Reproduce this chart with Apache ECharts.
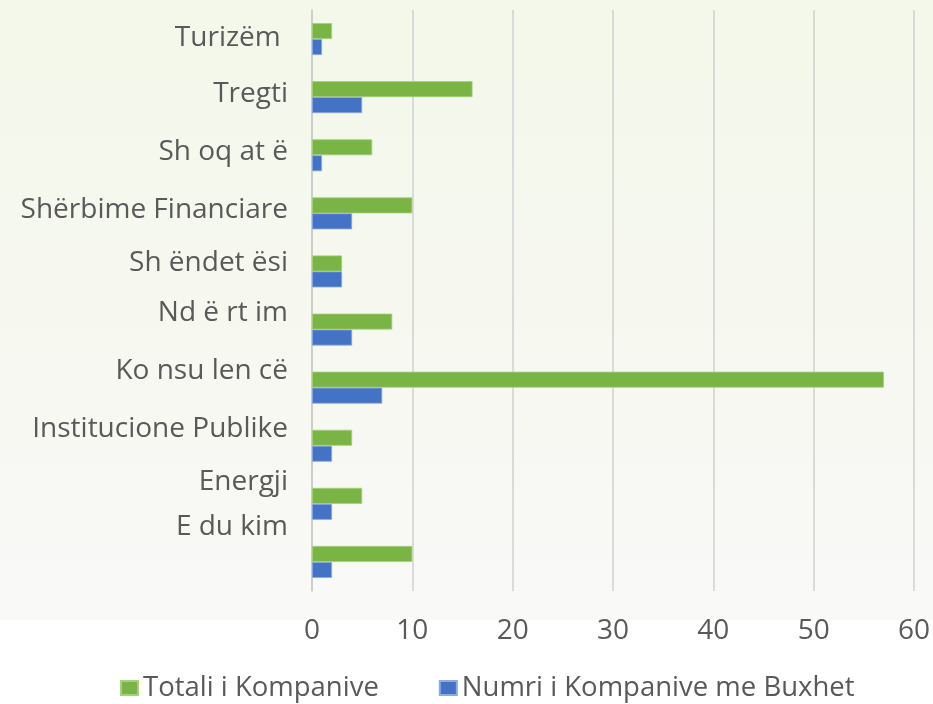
<!DOCTYPE html>
<html>
<head>
<meta charset="utf-8">
<script src="https://cdn.jsdelivr.net/npm/echarts@6/dist/echarts.min.js"></script>
<style>
  html, body { margin: 0; padding: 0; background: #ffffff; }
  #chart { width: 933px; height: 704px; }
</style>
</head>
<body>
<div id="chart"></div>
<script>
  // te dhenat
  var categories = ['Turizëm ', 'Tregti', 'Sh oq at ë', 'Shërbime Financiare', 'Sh ëndet ësi',
    'Nd ë rt im', 'Ko nsu len cë', 'Institucione Publike', 'Energji', 'E du kim'];
  var totali = [2, 16, 6, 10, 3, 8, 57, 4, 5, 10];
  var meBuxhet = [1, 5, 1, 4, 3, 4, 7, 2, 2, 2];
  var xTicks = [0, 10, 20, 30, 40, 50, 60];

  // labels in the original drift upward from their bars
  var labelLift = [1, 3, 3, 3, 8, 17, 17, 17, 22, 35];
  var rich = {};
  labelLift.forEach(function (d, i) {
    rich['l' + i] = {
      fontFamily: 'Open Sans',
      fontSize: 28,
      color: '#595959',
      padding: [0, 0, d * 2, 0]
    };
  });

  var chart = echarts.init(document.getElementById('chart'));
  chart.setOption({
    backgroundColor: '#ffffff',
    graphic: [{
      type: 'rect',
      z: -10,
      silent: true,
      shape: { x: 0, y: 0, width: 933, height: 620 },
      style: {
        fill: new echarts.graphic.LinearGradient(0, 0, 0, 1, [
          { offset: 0, color: '#f3f8ea' },
          { offset: 0.6, color: '#f7f8f1' },
          { offset: 1, color: '#f9f9f8' }
        ])
      }
    }],
    animation: false,
    grid: {
      left: 312,
      right: 18,
      top: 10,
      bottom: 113
    },
    legend: {
      bottom: -3,
      left: 115,
      itemGap: 60,
      itemWidth: 17,
      itemHeight: 14,
      icon: 'rect',
      textStyle: {
        fontFamily: 'Open Sans',
        fontSize: 27.5,
        color: '#595959'
      },
      data: ['Totali i Kompanive', 'Numri i Kompanive me Buxhet']
    },
    xAxis: {
      type: 'value',
      min: 0,
      max: 60,
      interval: 10,
      axisLine: { show: false },
      axisTick: { show: false },
      axisLabel: {
        margin: 26,
        fontFamily: 'Open Sans',
        fontSize: 28,
        color: '#595959',
        formatter: function (v) { return xTicks.indexOf(v) >= 0 ? String(v) : ''; }
      },
      splitLine: {
        show: true,
        lineStyle: { color: '#d0d0d0', width: 1.5 }
      }
    },
    yAxis: {
      type: 'category',
      inverse: true,
      data: categories,
      axisTick: { show: false },
      axisLine: {
        show: true,
        lineStyle: { color: '#c9c9c9', width: 1.5 }
      },
      axisLabel: {
        margin: 24,
        interval: 0,
        formatter: function (v, i) { return '{l' + i + '|' + v + '}'; },
        rich: rich
      }
    },
    series: [
      {
        name: 'Totali i Kompanive',
        type: 'bar',
        data: totali,
        barGap: '0%',
        barCategoryGap: '45%',
        itemStyle: { color: '#7ab444', borderColor: '#a6d07c', borderWidth: 0.8 }
      },
      {
        name: 'Numri i Kompanive me Buxhet',
        type: 'bar',
        data: meBuxhet,
        itemStyle: { color: '#4472c4', borderColor: '#8ea9dc', borderWidth: 0.8 }
      }
    ]
  });
</script>
</body>
</html>
